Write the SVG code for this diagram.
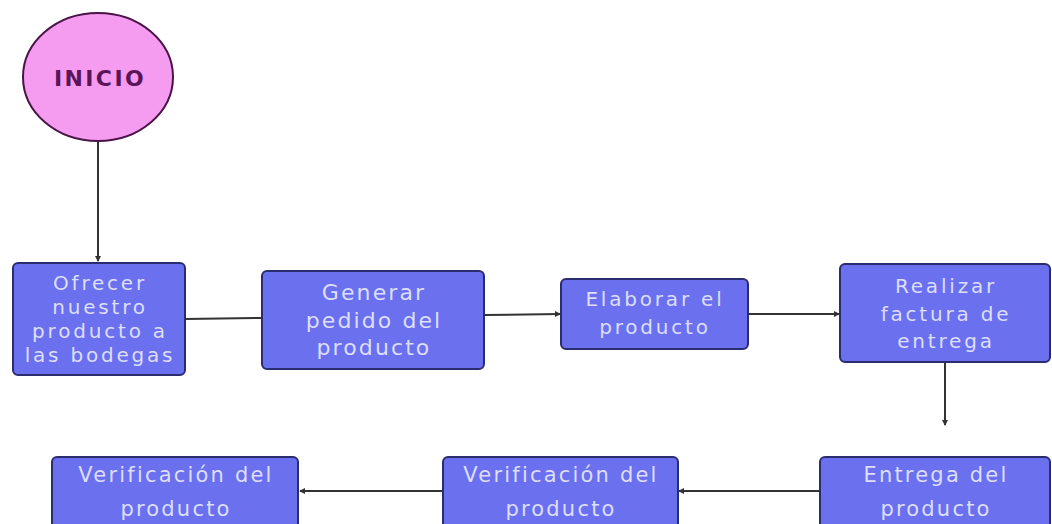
<svg xmlns="http://www.w3.org/2000/svg" width="1052" height="524" viewBox="0 0 1052 524">
<defs>
<style>
.box{fill:#6b70ef;stroke:#2a2c70;stroke-width:2}
.t{font-family:"DejaVu Sans","Liberation Sans",sans-serif;font-size:20px;fill:#dcdfff;text-anchor:middle;letter-spacing:2.8px}
.t2{font-size:22px;letter-spacing:2.1px}
.t3{font-size:21px;letter-spacing:2.2px}
.c{stroke:#333;stroke-width:2;fill:none}
</style>
<marker id="ah" markerWidth="6" markerHeight="6" refX="5" refY="3" orient="auto" markerUnits="userSpaceOnUse">
<path d="M0,0 L6,3 L0,6 Z" fill="#333"/>
</marker>
</defs>
<rect width="1052" height="524" fill="#ffffff"/>
<g id="connectors">
<line class="c" x1="98" y1="142" x2="98" y2="261" marker-end="url(#ah)"/>
<line class="c" x1="185" y1="319" x2="262" y2="318"/>
<line class="c" x1="484" y1="315" x2="560" y2="314" marker-end="url(#ah)"/>
<line class="c" x1="748" y1="314" x2="839" y2="314" marker-end="url(#ah)"/>
<line class="c" x1="945" y1="362" x2="945" y2="425" marker-end="url(#ah)"/>
<line class="c" x1="820" y1="491" x2="679" y2="491" marker-end="url(#ah)"/>
<line class="c" x1="443" y1="491" x2="300" y2="491" marker-end="url(#ah)"/>
</g>
<g id="inicio">
<ellipse cx="98" cy="77" rx="75" ry="64" fill="#f59cf1" stroke="#4a1448" stroke-width="2"/>
<text x="100" y="86" font-family="'DejaVu Sans','Liberation Sans',sans-serif" font-size="22" font-weight="bold" fill="#5a155a" text-anchor="middle" letter-spacing="2.4">INICIO</text>
</g>
<g id="ofrecer">
<rect class="box" x="13" y="263" width="172" height="112" rx="5"/>
<text class="t" x="100" y="290">Ofrecer</text>
<text class="t" x="100" y="314">nuestro</text>
<text class="t" x="100" y="338">producto a</text>
<text class="t" x="100" y="362">las bodegas</text>
</g>
<g id="generar">
<rect class="box" x="262" y="271" width="222" height="98" rx="5"/>
<text class="t t2" x="374" y="300">Generar</text>
<text class="t t2" x="374" y="328">pedido del</text>
<text class="t t2" x="374" y="355">producto</text>
</g>
<g id="elaborar">
<rect class="box" x="561" y="279" width="187" height="70" rx="5"/>
<text class="t" x="655" y="306">Elaborar el</text>
<text class="t" x="655" y="334">producto</text>
</g>
<g id="realizar">
<rect class="box" x="840" y="264" width="210" height="98" rx="5"/>
<text class="t" x="946" y="293">Realizar</text>
<text class="t" x="946" y="321">factura de</text>
<text class="t" x="946" y="348">entrega</text>
</g>
<g id="entrega">
<rect class="box" x="820" y="457" width="230" height="80" rx="5"/>
<text class="t t3" x="936" y="482">Entrega del</text>
<text class="t t3" x="936" y="516">producto</text>
</g>
<g id="verif2">
<rect class="box" x="443" y="457" width="235" height="80" rx="5"/>
<text class="t t3" x="561" y="482">Verificación del</text>
<text class="t t3" x="561" y="516">producto</text>
</g>
<g id="verif1">
<rect class="box" x="52" y="457" width="246" height="80" rx="5"/>
<text class="t t3" x="176" y="482">Verificación del</text>
<text class="t t3" x="176" y="516">producto</text>
</g>
</svg>
